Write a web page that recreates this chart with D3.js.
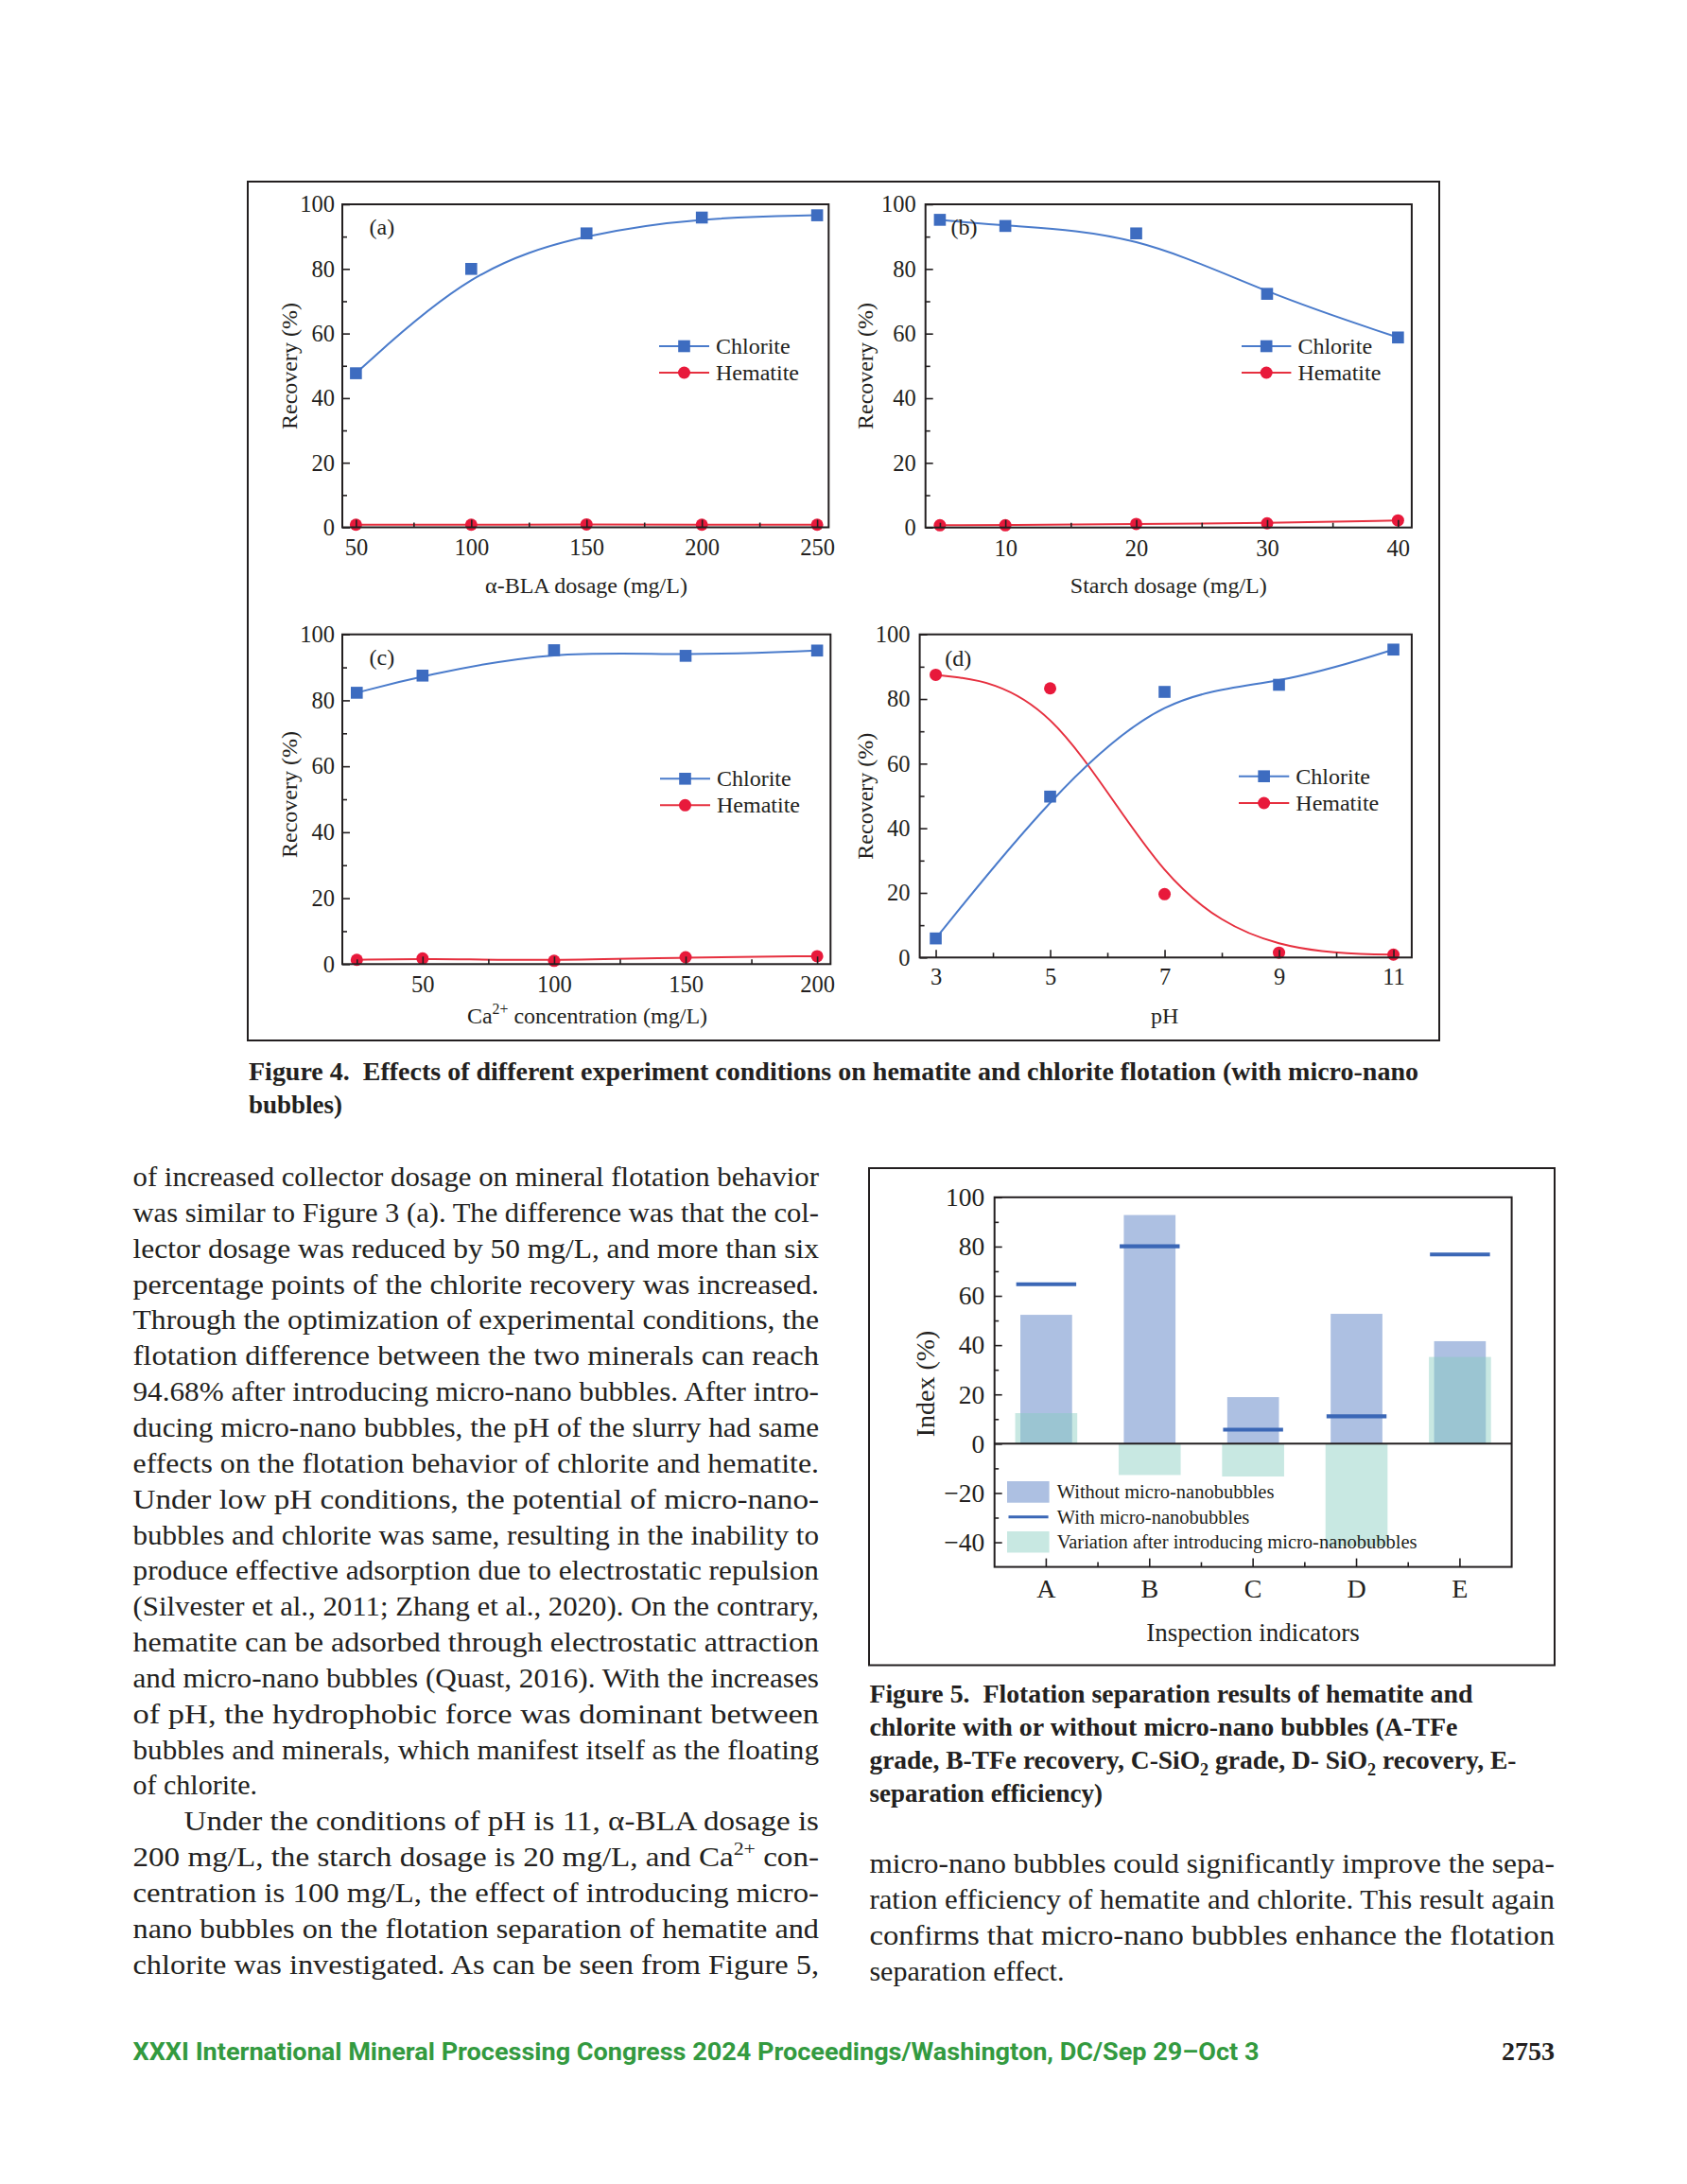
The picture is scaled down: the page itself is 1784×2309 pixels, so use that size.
<!DOCTYPE html>
<html>
<head>
<meta charset="utf-8">
<title>Figure 4 and Figure 5</title>
<style>
  body { margin: 0; background: #fff; }
  svg text { font-family: "Liberation Serif", "Times New Roman", serif; fill: #231f20; }
  .tick line { stroke: #231f20; stroke-width: 1.6; }
</style>
</head>
<body>
<script src="https://cdnjs.cloudflare.com/ajax/libs/d3/7.8.5/d3.min.js"></script>
<script>
// ---- data ----
var blaDosage = [50, 100, 150, 200, 250];
var chloriteA = [47.7, 80.0, 91.0, 95.9, 96.6];
var hematiteA = [0.8, 0.8, 0.9, 0.8, 0.8];

var starchDosage = [5, 10, 20, 30, 40];
var chloriteB = [95.2, 93.3, 91.0, 72.3, 58.8];
var hematiteB = [0.7, 0.7, 1.1, 1.3, 2.2];

var caConc = [25, 50, 100, 150, 200];
var chloriteC = [82.3, 87.5, 95.2, 93.5, 95.1];
var hematiteC = [1.3, 1.7, 1.0, 2.1, 2.4];

var phValues = [3, 5, 7, 9, 11];
var chloriteD = [5.9, 49.8, 82.2, 84.4, 95.3];
var hematiteD = [87.5, 83.3, 19.6, 1.5, 0.9];

var recoveryTicks = [0, 20, 40, 60, 80, 100];
var recoveryMinor = [10, 30, 50, 70, 90];

var indicators = ["A", "B", "C", "D", "E"];
var withoutMNB = [52.3, 92.8, 18.9, 52.7, 41.6];
var withMNB = [64.7, 80.1, 5.7, 11.1, 76.8];
var variationMNB = [12.4, -12.7, -13.3, -41.6, 35.2];
var indexTicks = [-40, -20, 0, 20, 40, 60, 80, 100];
var indexMinor = [-30, -10, 10, 30, 50, 70, 90];

var BLUE = "#3d6cc0", BLUE_LINE = "#4a7bcb", RED = "#e8193b", RED_LINE = "#e6303f", INK = "#231f20";

var svg = d3.select("body").append("svg")
    .attr("width", 1784).attr("height", 2309)
    .attr("viewBox", "0 0 1784 2309");

// text helper: ^{..} superscript, _{..} subscript
function addText(x, y, str, o) {
  o = o || {};
  var size = o.size || 30, shift = 0;
  var t = svg.append("text")
      .attr("font-size", size)
      .attr("font-weight", o.weight || "normal")
      .attr("text-anchor", o.anchor || "start");
  if (o.rotate) t.attr("transform", "translate(" + x + "," + y + ") rotate(" + o.rotate + ")");
  else t.attr("x", x).attr("y", y);
  if (o.family) t.style("font-family", o.family);
  if (o.fill) t.style("fill", o.fill);
  str.split(/(\^\{[^}]*\}|_\{[^}]*\})/).forEach(function(s){
    if (!s) return;
    var sp = t.append("tspan");
    if (s[0] === "^" || s[0] === "_") {
      var d = s[0] === "^" ? -0.4 * size : 0.25 * size;
      sp.attr("dy", d - shift).attr("font-size", size * 0.66).text(s.slice(2, -1));
      shift = d;
    } else {
      sp.attr("dy", -shift).text(s);
      shift = 0;
    }
  });
  if (o.width) t.attr("textLength", o.width).attr("lengthAdjust", "spacingAndGlyphs");
  return t;
}

// ---- Figure 4 ----
svg.append("rect").attr("x", 262).attr("y", 192).attr("width", 1260).attr("height", 908)
    .attr("fill", "none").attr("stroke", INK).attr("stroke-width", 2);

function drawPanel(p) {
  var x = d3.scaleLinear().domain(p.xDomain).range([p.x0, p.x1]);
  var y = d3.scaleLinear().domain([0, 100]).range([p.y1, p.y0]);
  var g = svg.append("g");
  var line = d3.line().curve(d3.curveBasis)
      .x(function(d){ return x(d[0]); })
      .y(function(d){ return y(d[1]); });
  var chl = d3.zip(p.xs, p.chlorite), hem = d3.zip(p.xs, p.hematite);

  g.append("path").datum(hem).attr("d", line)
      .attr("fill", "none").attr("stroke", RED_LINE).attr("stroke-width", 2);
  g.append("path").datum(chl).attr("d", line)
      .attr("fill", "none").attr("stroke", BLUE_LINE).attr("stroke-width", 2);

  g.selectAll(".hem").data(hem).enter().append("circle")
      .attr("cx", function(d){ return x(d[0]); })
      .attr("cy", function(d){ return y(d[1]); })
      .attr("r", 6.5).attr("fill", RED);
  g.selectAll(".chl").data(chl).enter().append("rect")
      .attr("x", function(d){ return x(d[0]) - 6.3; })
      .attr("y", function(d){ return y(d[1]) - 6.3; })
      .attr("width", 12.6).attr("height", 12.6).attr("fill", BLUE);

  // axes, ticks pointing inward
  var xa = g.append("g").attr("transform", "translate(0," + p.y1 + ")")
      .call(d3.axisBottom(x).tickValues(p.ticks).tickSizeInner(-8).tickSizeOuter(0).tickPadding(p.xPad));
  xa.attr("font-size", 24.5).select(".domain").remove();
  var xm = g.append("g").attr("transform", "translate(0," + p.y1 + ")")
      .call(d3.axisBottom(x).tickValues(p.minor).tickSizeInner(-5).tickSizeOuter(0).tickFormat(""));
  xm.select(".domain").remove();

  var ya = g.append("g").attr("transform", "translate(" + p.x0 + ",0)")
      .call(d3.axisLeft(y).tickValues(recoveryTicks).tickSizeInner(-8).tickSizeOuter(0).tickPadding(p.yPad));
  ya.attr("font-size", 24.5).select(".domain").remove();
  var ym = g.append("g").attr("transform", "translate(" + p.x0 + ",0)")
      .call(d3.axisLeft(y).tickValues(recoveryMinor).tickSizeInner(-5).tickSizeOuter(0).tickFormat(""));
  ym.select(".domain").remove();

  g.append("rect").attr("x", p.x0).attr("y", p.y0)
      .attr("width", p.x1 - p.x0).attr("height", p.y1 - p.y0)
      .attr("fill", "none").attr("stroke", INK).attr("stroke-width", 2);

  addText(p.labX, p.labY, p.label, {size: 24});
  addText(p.xtX, p.xtY, p.xTitle, {size: 24, anchor: "middle"});
  addText(p.ytX, p.ytY, "Recovery (%)", {size: 24, anchor: "middle", rotate: -90});

  // legend
  var lx0 = p.leg[0], lx1 = p.leg[1], lm = (lx0 + lx1) / 2;
  [[p.leg[2], "Chlorite", BLUE_LINE], [p.leg[3], "Hematite", RED_LINE]].forEach(function(r, i){
    g.append("line").attr("x1", lx0).attr("x2", lx1).attr("y1", r[0]).attr("y2", r[0])
        .attr("stroke", r[2]).attr("stroke-width", 2);
    if (i === 0) g.append("rect").attr("x", lm - 6.3).attr("y", r[0] - 6.3)
        .attr("width", 12.6).attr("height", 12.6).attr("fill", BLUE);
    else g.append("circle").attr("cx", lm).attr("cy", r[0]).attr("r", 6.5).attr("fill", RED);
    addText(lx1 + 7, r[0] + 8, r[1], {size: 24});
  });
}

drawPanel({x0: 362, x1: 876.3, y0: 216, y1: 557.5, xDomain: [44.1, 255],
  xs: blaDosage, chlorite: chloriteA, hematite: hematiteA,
  ticks: blaDosage, minor: [75, 125, 175, 225], xPad: 12.5, yPad: 8,
  label: "(a)", labX: 390.6, labY: 248.3,
  xTitle: "α-BLA dosage (mg/L)", xtX: 620, xtY: 626.7, ytX: 314, ytY: 387,
  leg: [697, 750, 366, 394]});

drawPanel({x0: 978.7, x1: 1492.9, y0: 216, y1: 557.7, xDomain: [3.9, 41.05],
  xs: starchDosage, chlorite: chloriteB, hematite: hematiteB,
  ticks: [10, 20, 30, 40], minor: [5, 15, 25, 35], xPad: 12.5, yPad: 10,
  label: "(b)", labX: 1005.5, labY: 248.3,
  xTitle: "Starch dosage (mg/L)", xtX: 1235.8, xtY: 626.7, ytX: 923.2, ytY: 387,
  leg: [1313, 1365.4, 366, 394]});

drawPanel({x0: 362, x1: 878.3, y0: 670.7, y1: 1019.3, xDomain: [19.5, 205.1],
  xs: caConc, chlorite: chloriteC, hematite: hematiteC,
  ticks: [50, 100, 150, 200], minor: [25, 75, 125, 175], xPad: 12, yPad: 8,
  label: "(c)", labX: 390.6, labY: 703.3,
  xTitle: "Ca^{2+} concentration (mg/L)", xtX: 621, xtY: 1081.7, ytX: 314, ytY: 840,
  leg: [698, 751, 823.3, 851.3]});

drawPanel({x0: 972.6, x1: 1492.9, y0: 670.7, y1: 1012.3, xDomain: [2.72, 11.32],
  xs: phValues, chlorite: chloriteD, hematite: hematiteD,
  ticks: phValues, minor: [4, 6, 8, 10], xPad: 11.5, yPad: 10,
  label: "(d)", labX: 999.3, labY: 704,
  xTitle: "pH", xtX: 1231.7, xtY: 1081.7, ytX: 923.2, ytY: 841.7,
  leg: [1310, 1363.3, 820.7, 849]});

addText(263, 1141.7, "Figure 4.\u00a0\u00a0Effects of different experiment conditions on hematite and chlorite flotation (with micro-nano",
  {size: 27, weight: "bold", width: 1237});
addText(263, 1176.7, "bubbles)", {size: 27, weight: "bold"});

// ---- Figure 5 ----
svg.append("rect").attr("x", 919).attr("y", 1235).attr("width", 725).attr("height", 525.5)
    .attr("fill", "none").attr("stroke", INK).attr("stroke-width", 2);

var f5 = {x0: 1051.7, x1: 1598.6, y0: 1265.8, y1: 1656.6};
var xb = d3.scaleBand().domain(indicators).range([f5.x0, f5.x1]).paddingInner(0).paddingOuter(0);
var yi = d3.scaleLinear().domain([-50, 100]).range([f5.y1, f5.y0]);
var bw = xb.bandwidth();
var g5 = svg.append("g");

g5.selectAll(".without").data(withoutMNB).enter().append("rect")
    .attr("x", function(d, i){ return xb(indicators[i]) + bw * 0.25; })
    .attr("width", bw * 0.5)
    .attr("y", function(d){ return yi(d); })
    .attr("height", function(d){ return yi(0) - yi(d); })
    .attr("fill", "#adc0e2");

g5.selectAll(".variation").data(variationMNB).enter().append("rect")
    .attr("x", function(d, i){ return xb(indicators[i]) + bw * 0.2; })
    .attr("width", bw * 0.6)
    .attr("y", function(d){ return yi(Math.max(d, 0)); })
    .attr("height", function(d){ return Math.abs(yi(0) - yi(d)); })
    .attr("fill", "rgb(133,204,191)").attr("fill-opacity", 0.45);

g5.append("line").attr("x1", f5.x0).attr("x2", f5.x1).attr("y1", yi(0)).attr("y2", yi(0))
    .attr("stroke", INK).attr("stroke-width", 2);

g5.selectAll(".with").data(withMNB).enter().append("line")
    .attr("x1", function(d, i){ return xb(indicators[i]) + bw * 0.21; })
    .attr("x2", function(d, i){ return xb(indicators[i]) + bw * 0.79; })
    .attr("y1", function(d){ return yi(d); })
    .attr("y2", function(d){ return yi(d); })
    .attr("stroke", "#3b67b6").attr("stroke-width", 4.2);

var xa5 = g5.append("g").attr("transform", "translate(0," + f5.y1 + ")")
    .call(d3.axisBottom(xb).tickSizeInner(-9).tickSizeOuter(0).tickPadding(13));
xa5.attr("font-size", 28).select(".domain").remove();
g5.selectAll(".minorx").data(indicators.slice(1)).enter().append("line")
    .attr("x1", function(d){ return xb(d); }).attr("x2", function(d){ return xb(d); })
    .attr("y1", f5.y1).attr("y2", f5.y1 - 5)
    .attr("stroke", INK).attr("stroke-width", 1.6);

var ya5 = g5.append("g").attr("transform", "translate(" + f5.x0 + ",0)")
    .call(d3.axisLeft(yi).tickValues(indexTicks).tickSizeInner(-8).tickSizeOuter(0).tickPadding(10.5)
      .tickFormat(function(d){ return d < 0 ? "\u2212" + (-d) : d; }));
ya5.attr("font-size", 27.5).select(".domain").remove();
var ym5 = g5.append("g").attr("transform", "translate(" + f5.x0 + ",0)")
    .call(d3.axisLeft(yi).tickValues(indexMinor).tickSizeInner(-4.5).tickSizeOuter(0).tickFormat(""));
ym5.select(".domain").remove();

g5.append("rect").attr("x", f5.x0).attr("y", f5.y0)
    .attr("width", f5.x1 - f5.x0).attr("height", f5.y1 - f5.y0)
    .attr("fill", "none").attr("stroke", INK).attr("stroke-width", 2);

// legend
g5.append("rect").attr("x", 1065).attr("y", 1566).attr("width", 44.6).attr("height", 22.7).attr("fill", "#adc0e2");
g5.append("line").attr("x1", 1066.5).attr("x2", 1108.6).attr("y1", 1603.8).attr("y2", 1603.8)
    .attr("stroke", "#3b67b6").attr("stroke-width", 3);
g5.append("rect").attr("x", 1065).attr("y", 1619).attr("width", 44.6).attr("height", 22.5)
    .attr("fill", "rgb(133,204,191)").attr("fill-opacity", 0.45);
addText(1117.7, 1584.4, "Without micro-nanobubbles", {size: 20.5});
addText(1117.7, 1610.8, "With micro-nanobubbles", {size: 20.5});
addText(1117.7, 1637.3, "Variation after introducing micro-nanobubbles", {size: 20.5});

addText(1325, 1734.8, "Inspection indicators", {size: 27, anchor: "middle"});
addText(987.6, 1463, "Index (%)", {size: 28, anchor: "middle", rotate: -90});

addText(919.4, 1800, "Figure 5.\u00a0\u00a0Flotation separation results of hematite and", {size: 27, weight: "bold", width: 638});
addText(919.4, 1835, "chlorite with or without micro-nano bubbles (A-TFe", {size: 27, weight: "bold", width: 622});
addText(919.4, 1870, "grade, B-TFe recovery, C-SiO_{2} grade, D- SiO_{2} recovery, E-", {size: 27, weight: "bold", width: 684});
addText(919.4, 1905, "separation efficiency)", {size: 27, weight: "bold"});

// ---- body text ----
var leftLines = [
  "of increased collector dosage on mineral flotation behavior",
  "was similar to Figure 3 (a). The difference was that the col-",
  "lector dosage was reduced by 50 mg/L, and more than six",
  "percentage points of the chlorite recovery was increased.",
  "Through the optimization of experimental conditions, the",
  "flotation difference between the two minerals can reach",
  "94.68% after introducing micro-nano bubbles. After intro-",
  "ducing micro-nano bubbles, the pH of the slurry had same",
  "effects on the flotation behavior of chlorite and hematite.",
  "Under low pH conditions, the potential of micro-nano-",
  "bubbles and chlorite was same, resulting in the inability to",
  "produce effective adsorption due to electrostatic repulsion",
  "(Silvester et al., 2011; Zhang et al., 2020). On the contrary,",
  "hematite can be adsorbed through electrostatic attraction",
  "and micro-nano bubbles (Quast, 2016). With the increases",
  "of pH, the hydrophobic force was dominant between",
  "bubbles and minerals, which manifest itself as the floating",
  "of chlorite.",
  "Under the conditions of pH is 11, α-BLA dosage is",
  "200 mg/L, the starch dosage is 20 mg/L, and Ca^{2+} con-",
  "centration is 100 mg/L, the effect of introducing micro-",
  "nano bubbles on the flotation separation of hematite and",
  "chlorite was investigated. As can be seen from Figure 5,"
];
leftLines.forEach(function(s, i){
  var y = 1254 + i * 37.85;
  if (i === 17) addText(140.5, y, s, {size: 30});
  else if (i === 18) addText(194.6, y, s, {size: 30, width: 866 - 194.6});
  else addText(140.5, y, s, {size: 30, width: 866 - 140.5});
});

var rightLines = [
  "micro-nano bubbles could significantly improve the sepa-",
  "ration efficiency of hematite and chlorite. This result again",
  "confirms that micro-nano bubbles enhance the flotation",
  "separation effect."
];
rightLines.forEach(function(s, i){
  var y = 1980 + i * 37.9;
  if (i === 3) addText(919.4, y, s, {size: 30});
  else addText(919.4, y, s, {size: 30, width: 1644 - 919.4});
});

// ---- footer ----
addText(140.5, 2178, "XXXI International Mineral Processing Congress 2024 Proceedings/Washington, DC/Sep 29\u2013Oct 3",
  {size: 26, weight: "bold", family: "Roboto, 'Liberation Sans', sans-serif", fill: "#339a3f", width: 1191});
addText(1644, 2178, "2753", {size: 28, weight: "bold", anchor: "end"});
</script>
</body>
</html>
